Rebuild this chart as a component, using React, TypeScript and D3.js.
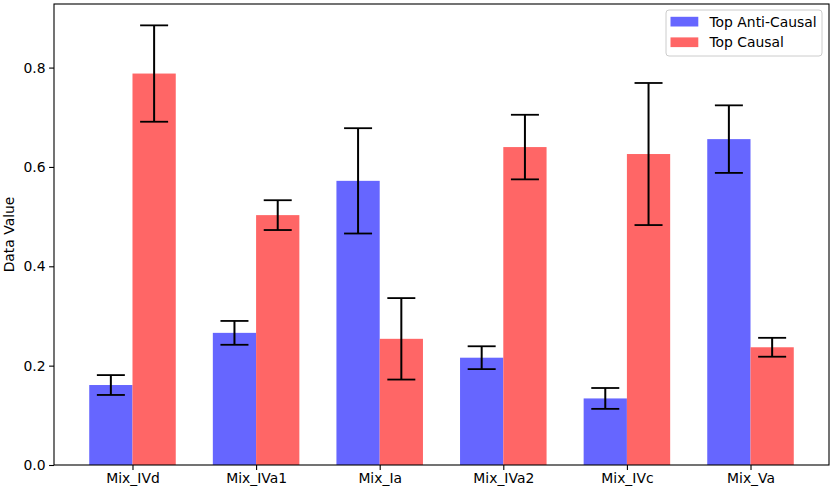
import { useEffect, useRef } from "react";
import * as d3 from "d3";

const categories = ["Mix_IVd", "Mix_IVa1", "Mix_Ia", "Mix_IVa2", "Mix_IVc", "Mix_Va"];
const antiCausal = [0.161, 0.266, 0.572, 0.216, 0.134, 0.656];
const antiCausalErr = [0.02, 0.024, 0.106, 0.023, 0.021, 0.068];
const causal = [0.788, 0.503, 0.254, 0.64, 0.626, 0.237];
const causalErr = [0.097, 0.03, 0.082, 0.065, 0.143, 0.019];
const yTicks = [0, 0.2, 0.4, 0.6, 0.8];

const series = [
  { name: "Top Anti-Causal", values: antiCausal, errors: antiCausalErr, color: "#6666ff", offset: -0.175 },
  { name: "Top Causal", values: causal, errors: causalErr, color: "#ff6666", offset: 0.175 },
];

const App = () => {
  const chartRef = useRef<SVGSVGElement>(null);

  useEffect(() => {
    const width = 837;
    const height = 494;
    const margin = { top: 4, right: 8, bottom: 29, left: 54 };
    const font = "DejaVu Sans, sans-serif";

    const svg = d3.select(chartRef.current);
    svg.selectAll("*").remove();
    svg.attr("width", width).attr("height", height);

    const barWidth = 0.35;
    const x = d3
      .scaleLinear()
      .domain([-0.635, categories.length - 1 + 0.635])
      .range([margin.left, width - margin.right]);

    const y = d3
      .scaleLinear()
      .domain([0, 0.928])
      .range([height - margin.bottom, margin.top]);

    const bw = x(barWidth) - x(0);

    // bars
    series.forEach((s) => {
      svg
        .append("g")
        .selectAll("rect")
        .data(s.values)
        .enter()
        .append("rect")
        .attr("x", (_, i) => x(i + s.offset) - bw / 2)
        .attr("y", (d) => y(d))
        .attr("width", bw)
        .attr("height", (d) => y(0) - y(d))
        .attr("fill", s.color);
    });

    // error bars
    series.forEach((s) => {
      const g = svg.append("g");
      s.values.forEach((v, i) => {
        const cx = x(i + s.offset);
        const lo = y(v - s.errors[i]);
        const hi = y(v + s.errors[i]);
        g.append("line")
          .attr("x1", cx).attr("x2", cx)
          .attr("y1", lo).attr("y2", hi)
          .attr("stroke", "black").attr("stroke-width", 2);
        [lo, hi].forEach((yy) => {
          g.append("line")
            .attr("x1", cx - 14).attr("x2", cx + 14)
            .attr("y1", yy).attr("y2", yy)
            .attr("stroke", "black").attr("stroke-width", 1.8);
        });
      });
    });

    // axes
    const xAxis = svg
      .append("g")
      .attr("transform", `translate(0,${height - margin.bottom})`)
      .call(
        d3
          .axisBottom(x)
          .tickValues(categories.map((_, i) => i))
          .tickFormat((d) => categories[d as number])
          .tickSize(4.9)
          .tickPadding(3.5)
      );

    const yAxis = svg
      .append("g")
      .attr("transform", `translate(${margin.left},0)`)
      .call(
        d3
          .axisLeft(y)
          .tickValues(yTicks)
          .tickFormat(d3.format(".1f"))
          .tickSize(4.9)
          .tickPadding(3.5)
      );

    [xAxis, yAxis].forEach((a) => {
      a.select(".domain").remove();
      a.selectAll("line").attr("stroke", "black").attr("stroke-width", 1.1);
      a.selectAll("text")
        .attr("font-family", font)
        .attr("font-size", 13.9)
        .attr("fill", "black");
    });

    // frame
    svg
      .append("rect")
      .attr("x", margin.left)
      .attr("y", margin.top)
      .attr("width", width - margin.left - margin.right)
      .attr("height", height - margin.top - margin.bottom)
      .attr("fill", "none")
      .attr("stroke", "black")
      .attr("stroke-width", 1.1);

    // y label
    svg
      .append("text")
      .attr("transform", `translate(14,${(margin.top + height - margin.bottom) / 2}) rotate(-90)`)
      .attr("text-anchor", "middle")
      .attr("font-family", font)
      .attr("font-size", 13.9)
      .text("Data Value");

    // legend
    const legend = svg.append("g").attr("transform", "translate(666,10)");
    legend
      .append("rect")
      .attr("width", 156)
      .attr("height", 46)
      .attr("rx", 3)
      .attr("fill", "white")
      .attr("fill-opacity", 0.8)
      .attr("stroke", "#cccccc");
    series.forEach((s, i) => {
      const row = legend.append("g").attr("transform", `translate(0,${11.7 + i * 20.6})`);
      row.append("rect")
        .attr("x", 4.5)
        .attr("y", -4.9)
        .attr("width", 27.8)
        .attr("height", 9.7)
        .attr("fill", s.color);
      row.append("text")
        .attr("x", 43.5)
        .attr("y", 0)
        .attr("dy", "0.35em")
        .attr("font-family", font)
        .attr("font-size", 13.9)
        .text(s.name);
    });
  }, []);

  return <svg ref={chartRef} style={{ position: "absolute", left: 0, top: 0 }} />;
};

export default App;
